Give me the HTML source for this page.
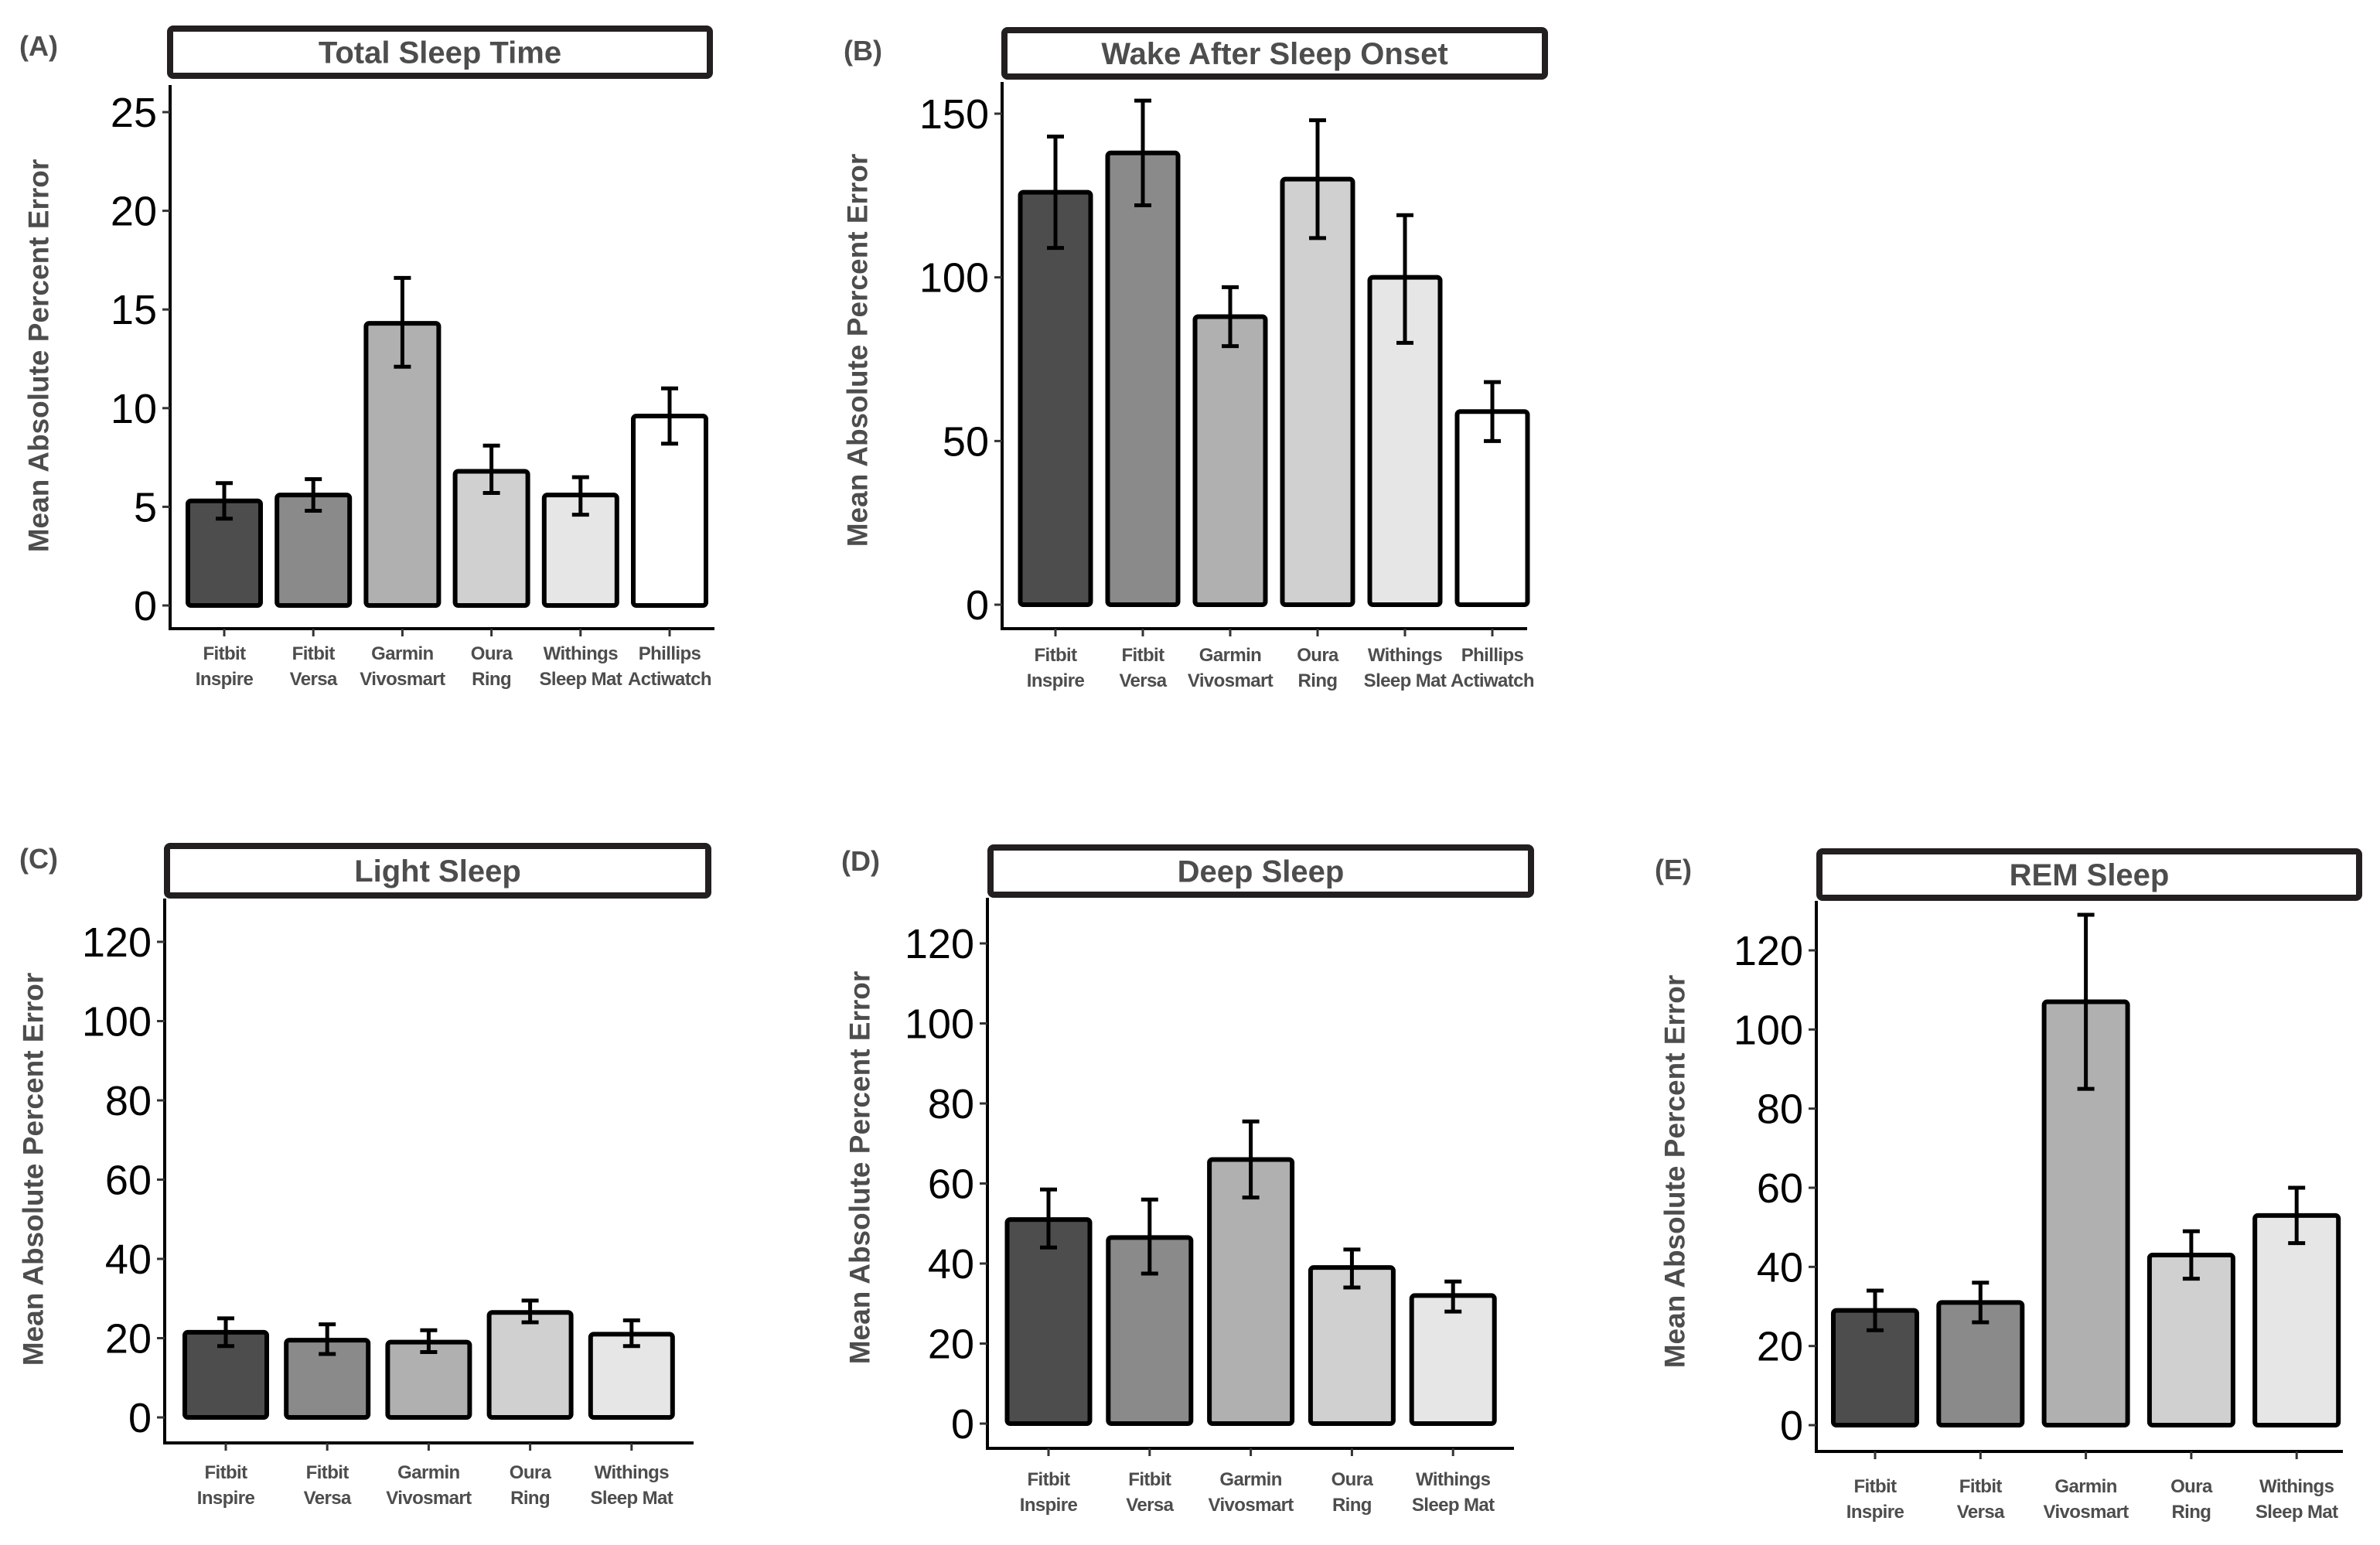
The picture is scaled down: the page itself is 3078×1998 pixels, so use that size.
<!DOCTYPE html>
<html><head><meta charset="utf-8">
<style>
html,body{margin:0;padding:0;background:#fff;}
svg{display:block;font-family:"Liberation Sans",Arial,sans-serif;}
</style></head>
<body>
<svg id="fig" width="3078" height="1998" viewBox="0 0 3078 1998" xmlns="http://www.w3.org/2000/svg"></svg>
<script>
// ---- data ----
const categories6 = ["Fitbit|Inspire","Fitbit|Versa","Garmin|Vivosmart","Oura|Ring","Withings|Sleep Mat","Phillips|Actiwatch"];
const categories5 = ["Fitbit|Inspire","Fitbit|Versa","Garmin|Vivosmart","Oura|Ring","Withings|Sleep Mat"];
const tstValues = [5.3, 5.6, 14.3, 6.8, 5.6, 9.6];
const tstLow = [4.4, 4.8, 12.1, 5.7, 4.6, 8.2];
const tstHigh = [6.2, 6.4, 16.6, 8.1, 6.5, 11.0];
const tstTicks = [0, 5, 10, 15, 20, 25];
const wasoValues = [126, 138, 88, 130, 100, 59];
const wasoLow = [109, 122, 79, 112, 80, 50];
const wasoHigh = [143, 154, 97, 148, 119, 68];
const wasoTicks = [0, 50, 100, 150];
const lightValues = [21.5, 19.5, 19, 26.5, 21];
const lightLow = [18, 16, 16.5, 24, 18];
const lightHigh = [25, 23.5, 22, 29.5, 24.5];
const deepValues = [51, 46.5, 66, 39, 32];
const deepLow = [44, 37.5, 56.5, 34, 28];
const deepHigh = [58.5, 56, 75.5, 43.5, 35.5];
const remValues = [29, 31, 107, 43, 53];
const remLow = [24, 26, 85, 37, 46];
const remHigh = [34, 36, 129, 49, 60];
const stageTicks = [0, 20, 40, 60, 80, 100, 120];
const fills = ["#4d4d4d","#8a8a8a","#b0b0b0","#d0d0d0","#e6e6e6","#ffffff"];

const NS = "http://www.w3.org/2000/svg";
const svg = document.getElementById("fig");
function mk(tag, attrs, parent){
  const e = document.createElementNS(NS, tag);
  for (const k in attrs) e.setAttribute(k, attrs[k]);
  (parent||svg).appendChild(e);
  return e;
}

const panels = [
  {id:"a", letter:"(A)", title:"Total Sleep Time", cats:categories6, vals:tstValues, lo:tstLow, hi:tstHigh, ticks:tstTicks,
   lx:25, ly:72, box:[216,33,922,102], ax:220, top:110, xa:813, y0:783, ymax:25, ymaxY:145, c0:290, step:115.2, bw:94, right:924, lab:40, ytx:50, yty:460},
  {id:"b", letter:"(B)", title:"Wake After Sleep Onset", cats:categories6, vals:wasoValues, lo:wasoLow, hi:wasoHigh, ticks:wasoTicks,
   lx:1091, ly:78, box:[1295,35,2002,103], ax:1296, top:106, xa:813, y0:782, ymax:150, ymaxY:147, c0:1365, step:113, bw:91, right:1975, lab:42, ytx:1109, yty:453},
  {id:"c", letter:"(C)", title:"Light Sleep", cats:categories5, vals:lightValues, lo:lightLow, hi:lightHigh, ticks:stageTicks,
   lx:25, ly:1123, box:[212,1090,920,1162], ax:213, top:1162, xa:1866, y0:1833, ymax:120, ymaxY:1218, c0:292, step:131.2, bw:106, right:897, lab:46, ytx:43, yty:1512},
  {id:"d", letter:"(D)", title:"Deep Sleep", cats:categories5, vals:deepValues, lo:deepLow, hi:deepHigh, ticks:stageTicks,
   lx:1088, ly:1126, box:[1277,1092,1984,1161], ax:1277, top:1161, xa:1873, y0:1841, ymax:120, ymaxY:1220, c0:1356, step:130.8, bw:107, right:1958, lab:48, ytx:1112, yty:1510},
  {id:"e", letter:"(E)", title:"REM Sleep", cats:categories5, vals:remValues, lo:remLow, hi:remHigh, ticks:stageTicks,
   lx:2140, ly:1137, box:[2349,1097,3055,1165], ax:2349, top:1165, xa:1877, y0:1843, ymax:120, ymaxY:1229, c0:2425, step:136.3, bw:108, right:3030, lab:53, ytx:2166, yty:1515}
];

panels.forEach(p => {
  const g = mk("g", {});
  
  
  const yS = v => p.y0 - (v / p.ymax) * (p.y0 - p.ymaxY);
  const xS = i => p.c0 + i * p.step;

  const lt = mk("text", {x:p.lx, y:p.ly, "font-size":36, "font-weight":"bold", fill:"#4d4d4d"}, g);
  lt.textContent = p.letter;
  
  

  const b = p.box;
  const br = mk("rect", {x:b[0]+4, y:b[1]+4, width:b[2]-b[0]-8, height:b[3]-b[1]-8, rx:4, fill:"#fff", stroke:"#231f20", "stroke-width":8}, g);
  
  
  const tt = mk("text", {x:(b[0]+b[2])/2, y:(b[1]+b[3])/2+14, "text-anchor":"middle", "font-size":40, "font-weight":"bold", fill:"#4d4d4d"}, g);
  tt.textContent = p.title;
  
  

  const yt = mk("text", {x:0, y:0, transform:`translate(${p.ytx},${p.yty}) rotate(-90)`, "text-anchor":"middle", "dominant-baseline":"central", "font-size":37, "font-weight":"bold", fill:"#4d4d4d"}, g);
  yt.textContent = "Mean Absolute Percent Error";
  
  

  const ya = mk("line", {x1:p.ax, y1:p.top, x2:p.ax, y2:p.xa+2, stroke:"#000", "stroke-width":4}, g);
  
  
  const xaL = mk("line", {x1:p.ax-2, y1:p.xa, x2:p.right, y2:p.xa, stroke:"#000", "stroke-width":4}, g);
  
  

  p.ticks.forEach(t => {
    const y = yS(t);
    const tk = mk("line", {x1:p.ax-10, y1:y, x2:p.ax, y2:y, stroke:"#333", "stroke-width":3}, g);
    
    
    const tl = mk("text", {x:p.ax-17, y:y+19, "text-anchor":"end", "font-size":54, fill:"#000"}, g);
    tl.textContent = String(t);
    
    
  });

  p.vals.forEach((v, i) => {
    const cx = xS(i);
    const r = mk("rect", {x:cx-p.bw/2, y:yS(v), width:p.bw, height:yS(0)-yS(v), rx:4, fill:fills[i], stroke:"#000", "stroke-width":6}, g);
    
    
    const eb = mk("path", {d:`M${cx},${yS(p.lo[i])}V${yS(p.hi[i])}M${cx-11},${yS(p.lo[i])}H${cx+11}M${cx-11},${yS(p.hi[i])}H${cx+11}`, stroke:"#000", "stroke-width":5, fill:"none"}, g);
    
    
    const xt = mk("line", {x1:cx, y1:p.xa, x2:cx, y2:p.xa+10, stroke:"#333", "stroke-width":3}, g);
    
    
    const parts = p.cats[i].split('|');
    const xl = mk("text", {x:cx, y:p.xa+p.lab, "text-anchor":"middle", "font-size":24, "letter-spacing":"-0.6", "font-weight":"bold", fill:"#4d4d4d"}, g);
    
    
    parts.forEach((s, k) => {
      const ts = mk("tspan", {x:cx, dy:k===0?0:33}, xl);
      ts.textContent = s;
    });
  });
});
</script>
</body></html>
